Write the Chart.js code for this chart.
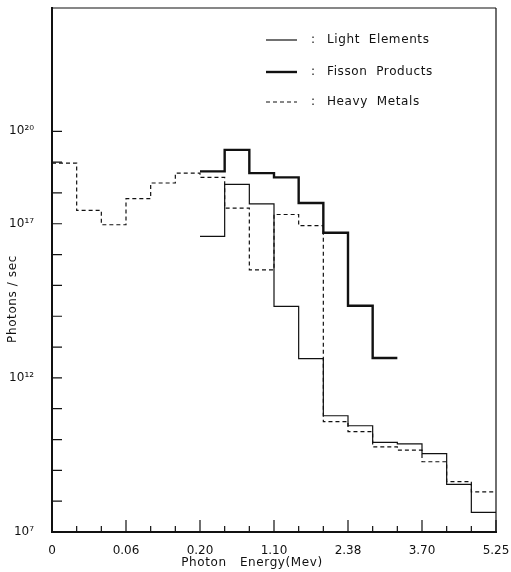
<!DOCTYPE html>
<html>
<head>
<meta charset="utf-8">
<script src="https://cdn.jsdelivr.net/npm/chart.js@4"></script>
<style>
  html, body { margin: 0; padding: 0; background: #fff; }
  canvas { display: block; }
</style>
</head>
<body>
<canvas id="chart" width="511" height="572"></canvas>
<script>
// --- DATA (photons/sec per energy bin) ---
// 18 energy bins, edge labels only on every third edge
const binEdges = [0, 1, 2, 3, 4, 5, 6, 7, 8, 9, 10, 11, 12, 13, 14, 15, 16, 17, 18];
const labelledEdges = [0, 3, 6, 9, 12, 15, 18];
const energyLabels = ["0", "0.06", "0.20", "1.10", "2.38", "3.70", "5.25"];

const heavyMetals = [9.3e18, 2.7e17, 9.3e16, 6.5e17, 2.1e18, 4.4e18, 3.2e18, 3.2e17, 3.2e15,
                     2.0e17, 8.7e16, 3.8e10, 1.8e10, 5.8e9, 4.5e9, 1.9e9, 4.3e8, 2.0e8];
const lightElements = [null, null, null, null, null, null, 3.9e16, 1.9e18, 4.4e17,
                       2.1e14, 4.2e12, 5.9e10, 2.8e10, 8.1e9, 7.2e9, 3.5e9, 3.5e8, 4.3e7];
const fissionProducts = [null, null, null, null, null, null, 5.0e18, 2.5e19, 4.4e18,
                         3.2e18, 4.7e17, 5.1e16, 2.2e14, 4.4e12, null, null, null, null];

const yTickValues = [1e7, 1e8, 1e9, 1e10, 1e11, 1e12, 1e13, 1e14, 1e15, 1e16, 1e17, 1e18, 1e19, 1e20];
const yLabelValues = [1e7, 1e12, 1e17, 1e20];
const yLabelText = ["10\u2077", "10\u00b9\u00b2", "10\u00b9\u2077", "10\u00b2\u2070"];

const xTitle = "Photon   Energy(Mev)";
const yTitle = "Photons / sec";

const FONT = "'DejaVu Sans', sans-serif";

// histogram steps: one point per bin start plus a closing point at the last bin end
function toSteps(values) {
    const pts = [];
    let last = -1;
    values.forEach((v, i) => {
        if (v !== null) { pts.push({ x: binEdges[i], y: v }); last = i; }
    });
    if (last >= 0) pts.push({ x: binEdges[last + 1], y: values[last] });
    return pts;
}

const series = [
    { label: "Light  Elements", data: lightElements, width: 1.2, dash: [] },
    { label: "Fisson  Products", data: fissionProducts, width: 2.4, dash: [] },
    { label: "Heavy  Metals", data: heavyMetals, width: 1.2, dash: [4, 3] }
];

// frame on all four sides plus inward tick marks
const framePlugin = {
    id: "frame",
    afterDraw(chart) {
        const { ctx, chartArea: a, scales } = chart;
        ctx.save();
        ctx.strokeStyle = "#111";
        ctx.lineWidth = 1.2;
        ctx.beginPath();
        ctx.moveTo(a.left, a.top); ctx.lineTo(a.right, a.top);
        ctx.moveTo(a.right, a.top); ctx.lineTo(a.right, a.bottom);
        ctx.stroke();

        ctx.beginPath();
        scales.y.ticks.forEach(t => {
            const y = scales.y.getPixelForValue(t.value);
            ctx.moveTo(a.left, y); ctx.lineTo(a.left + 10, y);
        });
        scales.x.ticks.forEach(t => {
            const x = scales.x.getPixelForValue(t.value);
            const len = labelledEdges.includes(t.value) ? 12 : 6;
            ctx.moveTo(x, a.bottom); ctx.lineTo(x, a.bottom - len);
        });
        ctx.stroke();

        // axis titles, set slightly off-centre as in the original figure
        ctx.fillStyle = "#111";
        ctx.font = "12px " + FONT;
        ctx.textAlign = "center";
        ctx.textBaseline = "middle";
        if ("letterSpacing" in ctx) ctx.letterSpacing = "0.6px";
        ctx.fillText(xTitle, 252, 563);
        ctx.translate(13, 299);
        ctx.rotate(-Math.PI / 2);
        ctx.fillText(yTitle, 0, 0);
        ctx.restore();
    }
};

// "line : name" legend inside the top right of the plot
const legendPlugin = {
    id: "lineLegend",
    afterDraw(chart) {
        const { ctx } = chart;
        const rows = [40, 72, 102];
        ctx.save();
        ctx.fillStyle = "#111";
        ctx.font = "12px " + FONT;
        ctx.textBaseline = "middle";
        if ("letterSpacing" in ctx) ctx.letterSpacing = "0.6px";
        chart.data.datasets.forEach((ds, i) => {
            const y = rows[i];
            ctx.strokeStyle = "#111";
            ctx.lineWidth = ds.borderWidth;
            ctx.setLineDash(ds.borderDash || []);
            ctx.beginPath();
            ctx.moveTo(266, y); ctx.lineTo(297, y);
            ctx.stroke();
            ctx.setLineDash([]);
            ctx.fillText(":", 311, y);
            ctx.fillText(ds.label, 327, y);
        });
        ctx.restore();
    }
};

new Chart(document.getElementById("chart"), {
    type: "line",
    data: {
        datasets: series.map(s => ({
            label: s.label,
            data: toSteps(s.data),
            stepped: "before",
            borderColor: "#111",
            borderWidth: s.width,
            borderDash: s.dash,
            pointRadius: 0,
            fill: false
        }))
    },
    options: {
        responsive: false,
        animation: false,
        layout: { padding: { top: 8, right: 15, left: 0, bottom: 0 } },
        plugins: {
            legend: { display: false },
            tooltip: { enabled: false }
        },
        scales: {
            x: {
                type: "linear",
                min: 0,
                max: 18,
                grid: { display: false },
                border: { display: true, color: "#111", width: 2 },
                afterBuildTicks: scale => { scale.ticks = binEdges.map(v => ({ value: v })); },
                afterFit: scale => { scale.height = 40; scale.paddingLeft = 0; scale.paddingRight = 0; },
                ticks: {
                    autoSkip: false,
                    maxRotation: 0,
                    padding: 4,
                    color: "#111",
                    font: { family: FONT, size: 12 },
                    callback: v => {
                        const k = labelledEdges.indexOf(v);
                        return k >= 0 ? energyLabels[k] : "";
                    }
                }
            },
            y: {
                type: "logarithmic",
                min: 1e7,
                max: 1e24,
                grid: { display: false },
                border: { display: true, color: "#111", width: 2 },
                afterBuildTicks: scale => { scale.ticks = yTickValues.map(v => ({ value: v })); },
                afterFit: scale => { scale.width = 52; scale.paddingTop = 0; scale.paddingBottom = 0; },
                ticks: {
                    autoSkip: false,
                    padding: 10,
                    color: "#111",
                    font: { family: FONT, size: 12 },
                    callback: v => {
                        const k = yLabelValues.indexOf(v);
                        return k >= 0 ? yLabelText[k] : "";
                    }
                }
            }
        }
    },
    plugins: [framePlugin, legendPlugin]
});
</script>
</body>
</html>
